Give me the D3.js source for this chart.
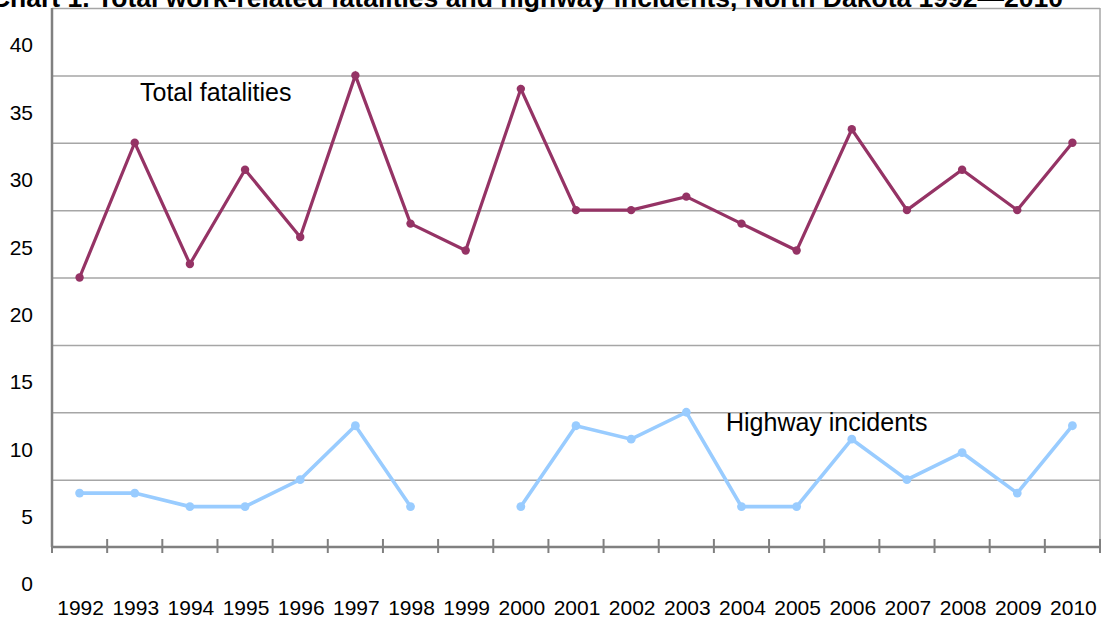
<!DOCTYPE html>
<html>
<head>
<meta charset="utf-8">
<script src="https://cdn.jsdelivr.net/npm/d3@7"></script>
<style>
  body { margin: 0; background: #fff; }
  svg { display: block; font-family: "Liberation Sans", Arial, sans-serif; }
  .grid line { stroke: #a6a6a6; stroke-width: 1.5; }
  .grid path { display: none; }
</style>
</head>
<body>
<div id="chart-container"></div>
<script>
// values
var years = ["1992","1993","1994","1995","1996","1997","1998","1999","2000","2001",
             "2002","2003","2004","2005","2006","2007","2008","2009","2010"];
var totalFatalities = [23, 33, 24, 31, 26, 38, 27, 25, 37, 28, 28, 29, 27, 25, 34, 28, 31, 28, 33];
var highwayIncidents = [7, 7, 6, 6, 8, 12, 6, null, 6, 12, 11, 13, 6, 6, 11, 8, 10, 7, 12];
var yLabels = [0, 5, 10, 15, 20, 25, 30, 35, 40];
var gridValues = [8, 13, 18, 23, 28, 33, 38, 43];

var titleText = "Chart 1. Total work-related  fatalities  and highway  incidents, North Dakota  1992\u20142010";

var width = 1102, height = 619;
var plot = {left: 52, right: 1100, top: 8, bottom: 547};

var svg = d3.select("#chart-container").append("svg")
    .attr("width", width)
    .attr("height", height);

var x = d3.scaleBand()
    .domain(years)
    .range([plot.left, plot.right]);

var y = d3.scaleLinear()
    .domain([3, 43])
    .range([plot.bottom, plot.top]);

// horizontal gridlines
svg.append("g")
    .attr("class", "grid")
    .attr("transform", "translate(" + plot.left + ",0)")
    .call(d3.axisLeft(y).tickValues(gridValues).tickSize(-(plot.right - plot.left)).tickFormat(""));

// right border
svg.append("line")
    .attr("x1", plot.right).attr("x2", plot.right)
    .attr("y1", y(43)).attr("y2", y(3))
    .attr("stroke", "#a6a6a6").attr("stroke-width", 1.5);

// y axis labels (sit a little above their values, as in the original)
var yAxis = svg.append("g")
    .attr("transform", "translate(" + plot.left + ",0)")
    .call(d3.axisLeft(y).tickValues(yLabels).tickSize(0).tickPadding(19));
yAxis.select(".domain").remove();
yAxis.selectAll("text")
    .attr("dy", "-4")
    .attr("dominant-baseline", "central")
    .attr("font-size", 21)
    .attr("font-family", "Liberation Sans, Arial, sans-serif")
    .attr("fill", "#000");

// left axis line
svg.append("line")
    .attr("x1", plot.left).attr("x2", plot.left)
    .attr("y1", plot.top).attr("y2", plot.bottom)
    .attr("stroke", "#808080").attr("stroke-width", 2.5);

// bottom axis with ticks on band edges
var bounds = years.map(function (d) { return x(d); }).concat([plot.right]);
svg.append("line")
    .attr("x1", plot.left).attr("x2", plot.right)
    .attr("y1", plot.bottom).attr("y2", plot.bottom)
    .attr("stroke", "#808080").attr("stroke-width", 2.5);
svg.append("g").selectAll("line")
    .data(bounds)
    .enter().append("line")
    .attr("x1", function (d) { return d; })
    .attr("x2", function (d) { return d; })
    .attr("y1", plot.bottom - 8)
    .attr("y2", plot.bottom + 6)
    .attr("stroke", "#808080")
    .attr("stroke-width", 2);

// year labels
svg.append("g").selectAll("text")
    .data(years)
    .enter().append("text")
    .attr("x", function (d) { return x(d) + x.bandwidth() / 2 + 1; })
    .attr("y", 615)
    .attr("text-anchor", "middle")
    .attr("font-size", 21)
    .text(function (d) { return d; });

function drawSeries(values, color, strokeW, r) {
    var pts = values.map(function (d, i) { return {year: years[i], v: d}; });

    var line = d3.line()
        .defined(function (p) { return p.v !== null; })
        .x(function (p) { return x(p.year) + x.bandwidth() / 2; })
        .y(function (p) { return y(p.v); });

    svg.append("path")
        .datum(pts)
        .attr("fill", "none")
        .attr("stroke", color)
        .attr("stroke-width", strokeW)
        .attr("d", line);

    svg.append("g").selectAll("circle")
        .data(pts.filter(function (p) { return p.v !== null; }))
        .enter().append("circle")
        .attr("cx", function (p) { return x(p.year) + x.bandwidth() / 2; })
        .attr("cy", function (p) { return y(p.v); })
        .attr("r", r)
        .attr("fill", color);
}

drawSeries(totalFatalities, "#953365", 3.2, 4.2);
drawSeries(highwayIncidents, "#99ccff", 3.6, 4.4);

// series annotations
svg.append("text")
    .attr("x", 140).attr("y", 101)
    .attr("font-size", 25)
    .text("Total fatalities");
svg.append("text")
    .attr("x", 726).attr("y", 431)
    .attr("font-size", 25)
    .text("Highway incidents");

// title, partially cut off at the top like the original
var title = svg.append("text")
    .attr("x", 527).attr("y", 7)
    .attr("text-anchor", "middle")
    .attr("font-weight", "bold")
    .attr("font-size", 20)
    .text(titleText);
var len = title.node().getComputedTextLength();
title.attr("font-size", 20 * 1073 / len);
</script>
</body>
</html>
